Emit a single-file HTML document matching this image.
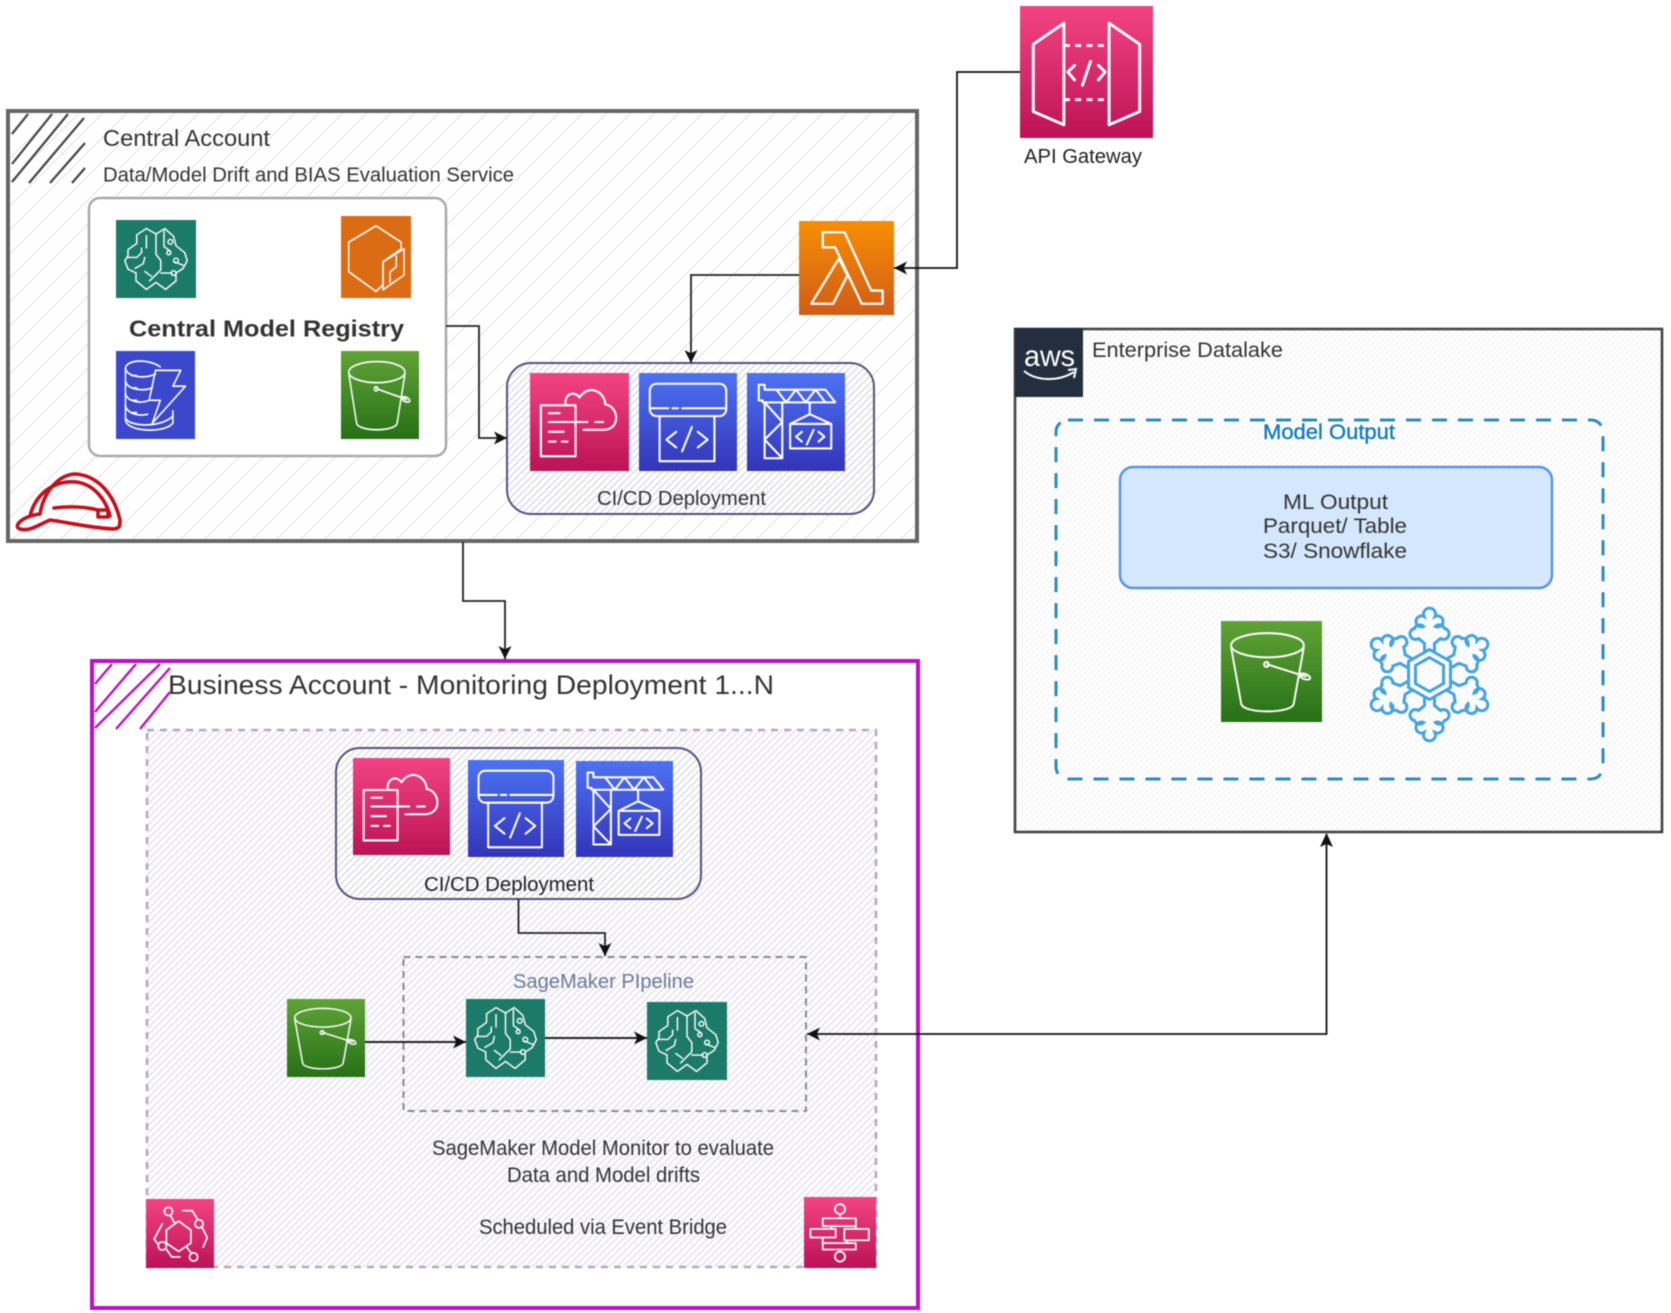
<!DOCTYPE html>
<html><head><meta charset="utf-8"><style>
html,body{margin:0;padding:0;background:#fff;width:1671px;height:1313px;overflow:hidden}
svg.main{display:block;filter:blur(.6px)}
text{font-family:"Liberation Sans",sans-serif;fill:#333}
</style></head><body>
<svg class="main" xmlns="http://www.w3.org/2000/svg" width="1671" height="1313" viewBox="0 0 1671 1313">
<defs>
<linearGradient id="gPink" x1="0" y1="0" x2="0" y2="1"><stop offset="0" stop-color="#f34482"/><stop offset="1" stop-color="#bc1356"/></linearGradient>
<linearGradient id="gBlue" x1="0" y1="0" x2="0" y2="1"><stop offset="0" stop-color="#4d72f3"/><stop offset="1" stop-color="#3334b9"/></linearGradient>
<linearGradient id="gGreen" x1="0" y1="0" x2="0" y2="1"><stop offset="0" stop-color="#60a337"/><stop offset="1" stop-color="#277116"/></linearGradient>
<linearGradient id="gOrange" x1="0" y1="0" x2="0" y2="1"><stop offset="0" stop-color="#f78e04"/><stop offset="1" stop-color="#d05c17"/></linearGradient>
<pattern id="hCentral" width="24" height="24" patternUnits="userSpaceOnUse"><path d="M-2 26L26 -2M-2 2L2 -2M22 26L26 22" stroke="#e6e6e6" stroke-width="1.2"/></pattern>
<pattern id="hCicd" width="7" height="7" patternUnits="userSpaceOnUse"><rect width="7" height="7" fill="#fff"/><path d="M-1 8L8 -1M-1 1L1 -1M6 8L8 6" stroke="#d6d6e0" stroke-width="1.2"/></pattern>
<pattern id="hInner" width="7" height="7" patternUnits="userSpaceOnUse"><rect width="7" height="7" fill="#fdfcfe"/><path d="M-1 8L8 -1M-1 1L1 -1M6 8L8 6" stroke="#e0dee7" stroke-width="1.2"/></pattern>
<pattern id="hEnt" width="6" height="6" patternUnits="userSpaceOnUse"><rect width="6" height="6" fill="#fff"/><path d="M-1 7L7 -1M-1 1L1 -1M5 7L7 5" stroke="#f2f2f2" stroke-width="1"/></pattern>
<marker id="arr" viewBox="0 0 12 12" refX="12" refY="6" markerWidth="13" markerHeight="13" markerUnits="userSpaceOnUse" orient="auto"><path d="M0 0L12 6L0 12L3 6Z" fill="#111"/></marker>

<g id="brain" fill="none" stroke="#fff" stroke-width="1.8" stroke-linejoin="round" stroke-linecap="round">
<path d="M50 18L38 11L26 19V30L15 38V46L11 52L15 63L25 68V78L38 89L50 80L62 89L75 78V68L84 62L89 52L86 42L75 33L72 21L61 11L50 18Z"/>
<path d="M50 18V44L56 52V64L42 78M38 20V36M14 48H26L32 42V36M24 62L34 56L36 48M36 66L44 72M60 14V34L68 40M84 58L74 54M56 68H70"/>
<circle cx="68" cy="28" r="3"/><circle cx="75" cy="52" r="3"/><circle cx="72" cy="68" r="3"/><circle cx="66" cy="42" r="2.5"/>
</g>
<g id="bucket" fill="none" stroke="#fff" stroke-width="1.9" stroke-linecap="round">
<ellipse cx="46" cy="24" rx="36" ry="12"/>
<path d="M10 26L20 82C22 92 70 92 72 82L82 26"/>
<path d="M46 43L84 55"/><circle cx="45" cy="43" r="2.4"/><ellipse cx="83" cy="55" rx="5.5" ry="2.6" transform="rotate(20 83 55)"/>
</g>
<g id="cube" fill="none" stroke="#fff" stroke-width="2" stroke-linejoin="round">
<path d="M50 12L86 32V40L60 56V84L50 92L11 68V32L50 12Z"/>
<path d="M60 56L90 40V72L60 90ZM70 82V68L79 62V48"/>
</g>
<g id="dynamo" fill="none" stroke="#fff" stroke-width="1.9" stroke-linecap="round" stroke-linejoin="round">
<path d="M56 18C40 8 12 10 12 20V78C12 92 62 94 72 82V68"/>
<path d="M12 20C14 30 38 32 50 26M12 34C14 44 34 46 46 42M12 48C14 58 32 60 42 56M12 62C14 72 30 74 40 72M12 76C16 86 56 88 72 74M20 28H26M20 42H26M20 56H26M20 70H26"/>
<path d="M50 22H82L72 40H88L46 82L56 56H42Z"/>
</g>
<g id="lambda" fill="none" stroke="#fff" stroke-width="2.4" stroke-linejoin="round">
<path d="M25 12H48L76 74H88V88H66L38 28H25Z"/>
<path d="M13 88L42 40L51 58L36 88Z"/>
</g>
<g id="cform" fill="none" stroke="#fff" stroke-width="2.1" stroke-linecap="round" stroke-linejoin="round">
<path d="M11 33H46V85H11ZM36 33C34 22 44 17 50 25C60 10 76 20 76 32C90 34 92 58 74 58H54"/>
<path d="M19 41H30M19 50H58M66 50H74M19 60H34M19 70H26M32 70H38"/>
</g>
<g id="cbuild" fill="none" stroke="#fff" stroke-width="2.1" stroke-linejoin="round" stroke-linecap="round">
<rect x="11" y="11" width="78" height="33" rx="7"/>
<path d="M11 36H30M34 36H40M44 36H89M21 44V90H77V44"/>
<path d="M38 60L28 68L38 76M60 60L70 68L60 76M54 55L44 80"/>
</g>
<g id="crane" fill="none" stroke="#fff" stroke-width="2.1" stroke-linejoin="round" stroke-linecap="round">
<path d="M12 12V28H16V30H90L80 17H18V12ZM30 17L40 30L50 17L60 30L70 17L80 30"/>
<path d="M18 30V87H36V30M18 30L36 50L18 68L36 87"/>
<path d="M64 30V42M44 52L64 42L86 52V77H44ZM44 52H86"/>
<path d="M56 60L50 65L56 70M73 60L79 65L73 70M68 58L61 73"/>
</g>
<g id="api" fill="none" stroke="#fff" stroke-width="2.2" stroke-linejoin="round">
<path d="M10 29L33 13V90L10 80ZM90 29L67 13V90L90 80Z"/>
<path d="M33 30H67M33 71H67" stroke-dasharray="4.5 4"/>
<path d="M41 45L36 50L41 56M59 45L64 50L59 56M53 42L47 60" stroke-linecap="round"/>
</g>
<g id="ebridge" fill="none" stroke="#fff" stroke-width="2.4" stroke-linecap="round" stroke-linejoin="round">
<path d="M48 32L66 45V64L48 76L30 64V45Z"/>
<circle cx="33" cy="18" r="6"/><circle cx="78" cy="36" r="6"/><circle cx="24" cy="68" r="6"/><circle cx="70" cy="84" r="6"/>
<path d="M36 24L42 35M60 70L67 79M54 17H68L76 30M83 42L90 56L84 70M24 36L12 58L18 66M30 73L38 84H50"/>
</g>
<g id="step" fill="none" stroke="#fff" stroke-width="2.4" stroke-linejoin="round">
<circle cx="50" cy="17" r="7"/><circle cx="50" cy="84" r="7"/>
<rect x="26" y="30" width="46" height="11"/><rect x="9" y="45" width="35" height="12"/><rect x="56" y="45" width="34" height="16"/><rect x="26" y="65" width="46" height="9"/>
<path d="M50 24V30M50 74V77M38 41V45M72 41V45M26 57V65M60 61V65"/>
</g>
<g id="arm" fill="none" stroke="#44a3e0" stroke-width="3">
<path d="M-5 -22V-31L-11 -36A5.5 5.5 0 1 1 -15 -46A5.5 5.5 0 0 1 -6 -48A5.5 5.5 0 1 1 -5.5 -58A6 6 0 1 1 5.5 -58A5.5 5.5 0 1 1 6 -48A5.5 5.5 0 0 1 15 -46A5.5 5.5 0 1 1 11 -36L5 -31V-22"/>
</g>
</defs>

<!-- Central account -->
<rect x="8" y="111" width="909" height="430" fill="#fff"/>
<rect x="8" y="111" width="909" height="430" fill="url(#hCentral)"/>
<g stroke="#444" stroke-width="2.2" fill="none">
<path d="M12 134L28 114M12 164L52 114M12 182L68 114M29 183L84 118M50 183L85 143M72 183L85 168"/>
</g>
<rect x="8" y="111" width="909" height="430" fill="none" stroke="#666" stroke-width="4"/>
<text x="103" y="146" font-size="23.5" textLength="167" lengthAdjust="spacingAndGlyphs">Central Account</text>
<text x="103" y="181.5" font-size="20" textLength="411" lengthAdjust="spacingAndGlyphs">Data/Model Drift and BIAS Evaluation Service</text>
<rect x="89" y="198" width="357" height="258" rx="11" fill="#fff" stroke="#aaa" stroke-width="2.5"/>
<rect x="116" y="220" width="80" height="78" fill="#1c7b68"/><svg x="116" y="220" width="80" height="78" viewBox="0 0 100 100" preserveAspectRatio="none"><use href="#brain"/></svg>
<rect x="341" y="216" width="70" height="82" fill="#dc6c14"/><svg x="341" y="216" width="70" height="82" viewBox="0 0 100 100" preserveAspectRatio="none"><use href="#cube"/></svg>
<text x="129" y="336.5" font-size="23" font-weight="700" textLength="275" lengthAdjust="spacingAndGlyphs">Central Model Registry</text>
<rect x="116" y="351" width="79" height="88" fill="#3b48cc"/><svg x="116" y="351" width="79" height="88" viewBox="0 0 100 100" preserveAspectRatio="none"><use href="#dynamo"/></svg>
<rect x="341" y="351" width="78" height="88" fill="url(#gGreen)"/><svg x="341" y="351" width="78" height="88" viewBox="0 0 100 100" preserveAspectRatio="none"><use href="#bucket"/></svg>

<!-- helmet -->
<g fill="none" stroke="#c3101c" stroke-width="3.6" stroke-linejoin="round" stroke-linecap="round">
<path d="M18 524C22 518 32 515 40 514C44 490 60 474 76 474C98 476 114 494 120 520C120 526 120 528 114 529C90 528 66 522 50 520C40 524 30 532 20 529C17 528 17 526 18 524Z"/>
<path d="M30 516C36 492 56 480 76 482C94 484 106 500 110 516M54 508C70 506 86 507 98 510M98 510H108V517H98Z"/>
</g>

<!-- CICD top -->
<rect x="507" y="363" width="367" height="151" rx="24" fill="url(#hCicd)" stroke="#56517e" stroke-width="2"/>
<rect x="530" y="373" width="99" height="98" fill="url(#gPink)"/><svg x="530" y="373" width="99" height="98" viewBox="0 0 100 100" preserveAspectRatio="none"><use href="#cform"/></svg>
<rect x="639" y="373" width="98" height="98" fill="url(#gBlue)"/><svg x="639" y="373" width="98" height="98" viewBox="0 0 100 100" preserveAspectRatio="none"><use href="#cbuild"/></svg>
<rect x="747" y="373" width="98" height="98" fill="url(#gBlue)"/><svg x="747" y="373" width="98" height="98" viewBox="0 0 100 100" preserveAspectRatio="none"><use href="#crane"/></svg>
<text x="597" y="505" font-size="20" textLength="169" lengthAdjust="spacingAndGlyphs">CI/CD Deployment</text>
<!-- lambda -->
<rect x="799" y="221" width="95" height="94" fill="url(#gOrange)"/><svg x="799" y="221" width="95" height="94" viewBox="0 0 100 100" preserveAspectRatio="none"><use href="#lambda"/></svg>

<!-- API -->
<rect x="1020" y="6" width="133" height="132" fill="url(#gPink)"/><svg x="1020" y="6" width="133" height="132" viewBox="0 0 100 100" preserveAspectRatio="none"><use href="#api"/></svg>
<text x="1024" y="163" font-size="20" textLength="118" lengthAdjust="spacingAndGlyphs" style="fill:#222">API Gateway</text>

<!-- Enterprise -->
<rect x="1015" y="329" width="647" height="503" fill="url(#hEnt)" stroke="#444" stroke-width="2.6"/>
<rect x="1015" y="328" width="68" height="69" fill="#232f3e"/>
<text x="1024" y="366" font-size="30" style="fill:#fff" textLength="51" lengthAdjust="spacingAndGlyphs">aws</text>
<path d="M1024 371C1036 381 1058 382 1074 372M1068 370L1076 369L1074 378" fill="none" stroke="#fff" stroke-width="2"/>
<text x="1092" y="357" font-size="21" textLength="191" lengthAdjust="spacingAndGlyphs">Enterprise Datalake</text>
<rect x="1056" y="420" width="547" height="359" rx="12" fill="none" stroke="#2e8bc0" stroke-width="3" stroke-dasharray="15 11"/>
<text x="1263" y="439" font-size="21" textLength="132" lengthAdjust="spacingAndGlyphs" style="fill:#147eba;stroke:#147eba;stroke-width:.4">Model Output</text>
<rect x="1120" y="467" width="432" height="121" rx="13" fill="#d4e7fd" stroke="#5b94e0" stroke-width="2.5"/>
<text x="1283" y="509" font-size="21" textLength="105" lengthAdjust="spacingAndGlyphs">ML Output</text>
<text x="1263" y="533" font-size="21" textLength="144" lengthAdjust="spacingAndGlyphs">Parquet/ Table</text>
<text x="1263" y="558" font-size="21" textLength="144" lengthAdjust="spacingAndGlyphs">S3/ Snowflake</text>
<rect x="1221" y="621" width="101" height="101" fill="url(#gGreen)"/><svg x="1221" y="621" width="101" height="101" viewBox="0 0 100 100" preserveAspectRatio="none"><use href="#bucket"/></svg>
<g transform="translate(1429.5 674.5)">
<use href="#arm"/><use href="#arm" transform="rotate(60)"/><use href="#arm" transform="rotate(120)"/><use href="#arm" transform="rotate(180)"/><use href="#arm" transform="rotate(240)"/><use href="#arm" transform="rotate(300)"/>
<path d="M0 -25L21 -13V13L0 25L-21 13V-13Z" fill="none" stroke="#44a3e0" stroke-width="3"/>
<path d="M0 -17L14 -9V9L0 17L-14 9V-9Z" fill="none" stroke="#44a3e0" stroke-width="3"/>
</g>

<!-- Business -->
<rect x="92" y="661" width="826" height="647" fill="#fff"/>
<g stroke="#c010c8" stroke-width="2.4" fill="none">
<path d="M95 684L112 664M95 712L136 664M95 728L160 664M116 729L170 668M140 729L170 692"/>
</g>
<rect x="92" y="661" width="826" height="647" fill="none" stroke="#bd0fc6" stroke-width="4"/>
<text x="168" y="694" font-size="27" textLength="606" lengthAdjust="spacingAndGlyphs">Business Account - Monitoring Deployment 1...N</text>
<rect x="147" y="730" width="729" height="537" fill="url(#hInner)" stroke="#b5a8c4" stroke-width="2.6" stroke-dasharray="7 6"/>

<!-- CICD business -->
<rect x="336" y="748" width="365" height="151" rx="24" fill="url(#hCicd)" stroke="#56517e" stroke-width="2"/>
<rect x="353" y="758" width="97" height="97" fill="url(#gPink)"/><svg x="353" y="758" width="97" height="97" viewBox="0 0 100 100" preserveAspectRatio="none"><use href="#cform"/></svg>
<rect x="468" y="760" width="96" height="97" fill="url(#gBlue)"/><svg x="468" y="760" width="96" height="97" viewBox="0 0 100 100" preserveAspectRatio="none"><use href="#cbuild"/></svg>
<rect x="576" y="761" width="97" height="96" fill="url(#gBlue)"/><svg x="576" y="761" width="97" height="96" viewBox="0 0 100 100" preserveAspectRatio="none"><use href="#crane"/></svg>
<text x="424" y="891" font-size="20" textLength="170" lengthAdjust="spacingAndGlyphs" style="fill:#222">CI/CD Deployment</text>

<!-- Pipeline -->
<rect x="403.5" y="957" width="402.5" height="154" fill="none" stroke="#8a8a92" stroke-width="2" stroke-dasharray="7 5"/>
<text x="513" y="988" font-size="20" textLength="181" lengthAdjust="spacingAndGlyphs" style="fill:#6f7b98">SageMaker PIpeline</text>
<rect x="287" y="999" width="78" height="78" fill="url(#gGreen)"/><svg x="287" y="999" width="78" height="78" viewBox="0 0 100 100" preserveAspectRatio="none"><use href="#bucket"/></svg>
<rect x="466" y="999" width="79" height="78" fill="#1c7b68"/><svg x="466" y="999" width="79" height="78" viewBox="0 0 100 100" preserveAspectRatio="none"><use href="#brain"/></svg>
<rect x="647" y="1002" width="80" height="78" fill="#1c7b68"/><svg x="647" y="1002" width="80" height="78" viewBox="0 0 100 100" preserveAspectRatio="none"><use href="#brain"/></svg>

<text x="432" y="1155" font-size="21" textLength="342" lengthAdjust="spacingAndGlyphs">SageMaker Model Monitor to evaluate</text>
<text x="507" y="1182" font-size="21" textLength="193" lengthAdjust="spacingAndGlyphs">Data and Model drifts</text>
<text x="479" y="1234" font-size="21" textLength="248" lengthAdjust="spacingAndGlyphs">Scheduled via Event Bridge</text>
<rect x="146" y="1199" width="68" height="69" fill="url(#gPink)"/><svg x="146" y="1199" width="68" height="69" viewBox="0 0 100 100" preserveAspectRatio="none"><use href="#ebridge"/></svg>
<rect x="804" y="1197" width="72" height="71" fill="url(#gPink)"/><svg x="804" y="1197" width="72" height="71" viewBox="0 0 100 100" preserveAspectRatio="none"><use href="#step"/></svg>

<!-- Connectors -->
<g fill="none" stroke="#222" stroke-width="1.8" marker-end="url(#arr)">
<path d="M446 326H479V438H507"/>
<path d="M799 275H691V363"/>
<path d="M1020 72H957V268H894" stroke="#111"/>
<path d="M463 542V601H505V659"/>
<path d="M518.5 899V933H605V956"/>
<path d="M365 1042H466" stroke-width="2"/>
<path d="M545 1038H647" stroke-width="2"/>
</g>
<path d="M1326.5 834V1034H807" fill="none" stroke="#111" stroke-width="1.8" marker-end="url(#arr)"/>
<path d="M1326.5 833L1320 847L1326.5 844L1333 847Z" fill="#111"/>
</svg>
</body></html>
